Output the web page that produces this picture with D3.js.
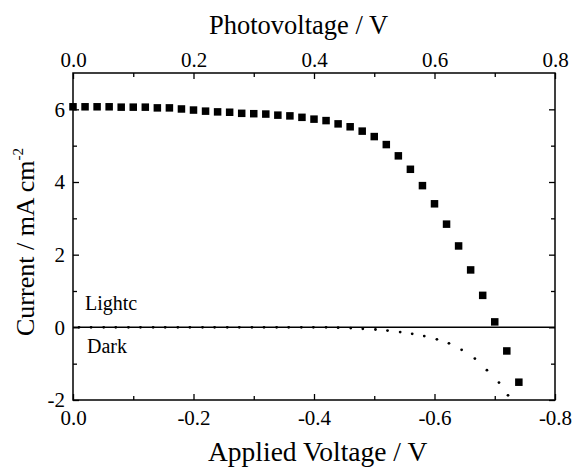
<!DOCTYPE html>
<html><head><meta charset="utf-8">
<script src="https://cdnjs.cloudflare.com/ajax/libs/d3/7.8.5/d3.min.js"></script>
<style>body{margin:0;background:#fff}svg{display:block}</style>
</head><body><svg id="c" width="575" height="467"></svg>
<script>
const lightV = [0.00,0.02,0.04,0.06,0.08,0.10,0.12,0.14,0.16,0.18,0.20,0.22,0.24,0.26,0.28,0.30,0.32,0.34,0.36,0.38,0.40,0.42,0.44,0.46,0.48,0.50,0.52,0.54,0.56,0.58,0.60,0.62,0.64,0.66,0.68,0.70,0.72,0.74];
const lightI = [6.07,6.07,6.07,6.07,6.06,6.06,6.06,6.04,6.04,6.01,5.98,5.95,5.93,5.92,5.89,5.88,5.87,5.84,5.82,5.78,5.73,5.69,5.60,5.52,5.40,5.25,5.03,4.72,4.35,3.90,3.40,2.84,2.24,1.58,0.88,0.15,-0.65,-1.51];
const darkV = [0.010,0.030,0.051,0.071,0.092,0.112,0.133,0.153,0.174,0.194,0.215,0.235,0.256,0.276,0.297,0.317,0.338,0.358,0.379,0.399,0.420,0.440,0.461,0.481,0.502,0.522,0.543,0.563,0.583,0.604,0.624,0.645,0.667,0.687,0.707,0.722];
const darkI = [0,0,0,0,0,0,0,0,0,0,0,0,0,0,0,0,0,0,0,0,0,-0.01,-0.02,-0.04,-0.06,-0.09,-0.13,-0.18,-0.24,-0.33,-0.44,-0.62,-0.86,-1.18,-1.52,-1.87];
const bottomTicks = [0,-0.2,-0.4,-0.6,-0.8];
const topTicks = [0,0.2,0.4,0.6,0.8];
const yTicks = [-2,0,2,4,6];

const FONT = "'Liberation Serif', Tinos, 'Times New Roman', serif";
const svg = d3.select('#c');
const L=73, R=555, T=73, B=400;
const xb = d3.scaleLinear().domain([0,-0.8]).range([L,R]);
const xt = d3.scaleLinear().domain([0,0.8]).range([L,R]);
const y = d3.scaleLinear().domain([-2,7]).range([B,T]);
const fmt = d => (d<0?'-':'') + Math.abs(d).toFixed(1);

function styleAxis(g, fs){
  g.attr('font-family', FONT).attr('font-size', fs);
  g.select('.domain').remove();
  g.selectAll('line').attr('stroke','#000').attr('stroke-width',1.3);
  g.selectAll('text').attr('fill','#000');
}
svg.append('g').attr('transform',`translate(0,${B})`)
  .call(d3.axisBottom(xb).tickValues(bottomTicks).tickFormat(fmt).tickSizeInner(-6).tickPadding(10)).call(g=>styleAxis(g,21));
svg.append('g').attr('transform',`translate(0,${B})`)
  .call(d3.axisBottom(xb).tickValues([-0.1,-0.3,-0.5,-0.7]).tickFormat('').tickSizeInner(-4)).call(g=>styleAxis(g,21));
svg.append('g').attr('transform',`translate(0,${T})`)
  .call(d3.axisTop(xt).tickValues(topTicks).tickFormat(fmt).tickSizeInner(-6).tickPadding(6)).call(g=>styleAxis(g,21));
svg.append('g').attr('transform',`translate(0,${T})`)
  .call(d3.axisTop(xt).tickValues([0.1,0.3,0.5,0.7]).tickFormat('').tickSizeInner(-4)).call(g=>styleAxis(g,21));
svg.append('g').attr('transform',`translate(${L},0)`)
  .call(d3.axisLeft(y).tickValues(yTicks).tickFormat(d=>(d<0?'-':'')+Math.abs(d)).tickSizeInner(-6).tickPadding(8)).call(g=>styleAxis(g,21));
svg.append('g').attr('transform',`translate(${L},0)`)
  .call(d3.axisLeft(y).tickValues([-1,1,3,5]).tickFormat('').tickSizeInner(-4)).call(g=>styleAxis(g,21));
svg.append('g').attr('transform',`translate(${R},0)`)
  .call(d3.axisRight(y).tickValues(yTicks).tickFormat('').tickSizeInner(-6)).call(g=>styleAxis(g,21));
svg.append('g').attr('transform',`translate(${R},0)`)
  .call(d3.axisRight(y).tickValues([-1,1,3,5]).tickFormat('').tickSizeInner(-4)).call(g=>styleAxis(g,21));

svg.append('rect').attr('x',L).attr('y',T).attr('width',R-L).attr('height',B-T)
  .attr('fill','none').attr('stroke','#000').attr('stroke-width',1.5);
svg.append('line').attr('x1',L).attr('x2',R).attr('y1',y(0)).attr('y2',y(0))
  .attr('stroke','#000').attr('stroke-width',1.5);

svg.append('g').selectAll('circle').data(darkV).join('circle')
  .attr('cx',(d)=>xt(d)).attr('cy',(d,i)=>y(darkI[i])).attr('r',1.4).attr('fill','#000');
const s=7.5;
svg.append('g').selectAll('rect').data(lightV).join('rect')
  .attr('x',d=>xt(d)-s/2).attr('y',(d,i)=>y(lightI[i])-s/2).attr('width',s).attr('height',s).attr('fill','#000');

const lab = svg.append('g').attr('font-family',FONT).attr('fill','#000');
lab.append('text').attr('x',85).attr('y',310).attr('font-size',20).text('Lightc');
lab.append('text').attr('x',87).attr('y',353).attr('font-size',20).text('Dark');
lab.append('text').attr('x',209).attr('y',34).attr('text-anchor','start').attr('font-size',26.5).text('Photovoltage / V');
lab.append('text').attr('x',208).attr('y',461).attr('text-anchor','start').attr('font-size',27.5).text('Applied Voltage / V');
const yt = lab.append('text').attr('transform',`translate(34,336) rotate(-90)`).attr('text-anchor','start').attr('font-size',26);
yt.append('tspan').text('Current / mA cm');
yt.append('tspan').attr('dy',-11).attr('font-size',15).text('-2');
</script></body></html>
